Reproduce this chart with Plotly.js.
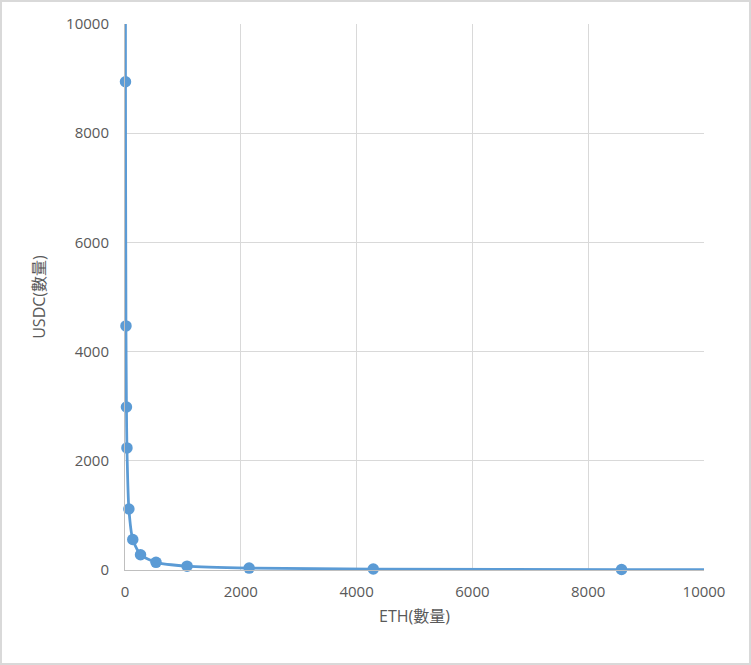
<!DOCTYPE html>
<html>
<head>
<meta charset="utf-8">
<script src="https://cdn.plot.ly/plotly-3.0.1.min.js"></script>
<style>
  html, body { margin: 0; padding: 0; background: #fff; }
  #wrap { position: relative; width: 751px; height: 665px; }
  #chart { width: 751px; height: 665px; }
  #frame { position: absolute; left: 0; top: 0; width: 747px; height: 661px; border: 2px solid #d9d9d9; pointer-events: none; }
</style>
</head>
<body>
<div id="wrap">
  <div id="chart"></div>
  <div id="frame"></div>
</div>
<script>
// ETH amount (x) and USDC amount (y) along the constant-product curve
const eth  = [4.19, 8.38, 16.75, 25.1, 33.5, 67, 134, 268, 536, 1072, 2144, 4288, 8576, 17152];
const usdc = [17890, 8943, 4470, 2985, 2236, 1118, 559, 279, 140, 70, 35, 17.5, 8.7, 4.4];

const xTitle = 'ETH(數量)';
const yTitle = 'USDC(數量)';
const tickVals = [0, 2000, 4000, 6000, 8000, 10000];

const fontFam = '"Open Sans", "Noto Sans CJK TC", sans-serif';
const txtColor = '#595959';

const trace = {
  type: 'scatter',
  mode: 'lines+markers',
  x: eth,
  y: usdc,
  line: { color: '#5b9bd5', width: 2.75, shape: 'spline', smoothing: 0.6 },
  marker: { color: '#5b9bd5', size: 11.5 },
  cliponaxis: false,
  hoverinfo: 'x+y'
};

const axisCommon = {
  range: [0, 10000],
  tickvals: tickVals,
  ticktext: tickVals.map(String),
  showgrid: true,
  gridcolor: '#d9d9d9',
  gridwidth: 1,
  zeroline: false,
  showline: true,
  linecolor: '#bfbfbf',
  linewidth: 1,
  ticks: '',
  tickfont: { family: fontFam, size: 15, color: txtColor },
  fixedrange: true
};

const layout = {
  width: 751,
  height: 665,
  margin: { l: 125, r: 47, t: 24, b: 95 },
  paper_bgcolor: '#ffffff',
  plot_bgcolor: '#ffffff',
  showlegend: false,
  font: { family: fontFam, color: txtColor },
  xaxis: Object.assign({}, axisCommon, {
    ticklabelstandoff: 8,
    title: { text: xTitle, font: { family: fontFam, size: 16, color: txtColor }, standoff: 10 }
  }),
  yaxis: Object.assign({}, axisCommon, {
    ticklabelstandoff: 12,
    title: { text: yTitle, font: { family: fontFam, size: 16, color: txtColor }, standoff: 16 }
  })
};

Plotly.newPlot('chart', [trace], layout, { displayModeBar: false, staticPlot: true });
</script>
</body>
</html>
